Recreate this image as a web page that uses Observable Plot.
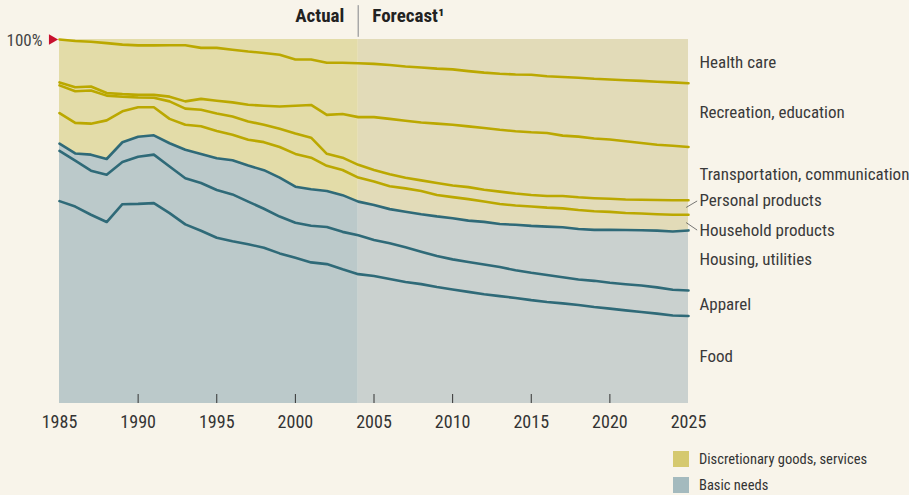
<!DOCTYPE html>
<html>
<head>
<meta charset="utf-8">
<script src="https://cdn.jsdelivr.net/npm/d3@7"></script>
<script src="https://cdn.jsdelivr.net/npm/@observablehq/plot@0.6"></script>
<style>
  html, body { margin: 0; padding: 0; background: #f8f4ea; }
  #wrap { position: relative; width: 909px; height: 495px; overflow: hidden;
          font-family: "Liberation Sans Narrow", "Arial Narrow", "Roboto Condensed", "Roboto", sans-serif; }
  #chart { position: absolute; left: 0; top: 0; }
  .lg { position: absolute; left: 673px; height: 16px; display: flex; align-items: center; }
  .lg span.sw { width: 16px; height: 16px; display: inline-block; }
  .lg span.tx { margin-left: 10px; font-size: 14.5px; color: #333; white-space: nowrap; }
</style>
</head>
<body>
<div id="wrap">
  <div id="chart"></div>
  <div class="lg" style="top:451px"><span class="sw" style="background:#d5c96f"></span><span class="tx">Discretionary goods, services</span></div>
  <div class="lg" style="top:477px"><span class="sw" style="background:#a4babe"></span><span class="tx">Basic needs</span></div>
</div>
<script>
// ---- data (share of consumption, %, 1985–2025) ----
const years = d3.range(1985, 2026);
const categories = ["Food", "Apparel", "Housing, utilities", "Household products",
  "Personal products", "Transportation, communication", "Recreation, education", "Health care"];
const basicNeeds = ["Food", "Apparel", "Housing, utilities"];
const forecastStart = 2004;
const xTicks = [1985, 1990, 1995, 2000, 2005, 2010, 2015, 2020, 2025];

const food = [55.6,54.1,51.8,49.8,54.7,54.8,55.0,52.3,49.2,47.4,45.5,44.6,43.7,42.8,41.2,40.0,38.8,38.3,36.9,35.5,35.0,34.2,33.4,32.8,32.0,31.3,30.7,30.0,29.5,29.0,28.4,27.9,27.5,27.1,26.5,26.1,25.6,25.2,24.7,24.2,24.0];
const apparel = [13.8,12.6,12.1,13.0,11.6,12.9,13.3,12.8,12.7,13.1,13.1,12.9,11.7,10.7,10.1,9.6,10.1,10.2,10.3,10.7,9.9,9.8,9.5,8.9,8.5,8.3,8.2,8.2,8.0,7.6,7.5,7.4,7.2,7.0,7.2,7.1,7.2,7.3,7.2,7.1,7.0];
const housing = [2.0,2.0,4.4,4.3,5.4,5.5,5.3,6.4,7.8,8.0,8.7,9.4,9.9,10.6,10.7,9.9,10.0,9.9,10.1,9.2,9.6,9.4,9.8,10.3,10.9,11.3,11.4,11.7,11.8,12.5,12.9,13.3,13.7,13.9,14.0,14.6,14.9,15.2,15.6,16.0,16.5];
const household = [8.4,8.4,8.5,10.6,8.5,8.1,7.7,6.7,6.9,7.6,7.5,7.0,7.1,7.7,8.4,9.0,8.7,6.9,6.9,6.6,6.4,6.3,6.4,6.4,5.9,5.8,5.9,5.6,5.5,5.3,5.3,5.2,5.2,5.2,5.1,4.9,4.7,4.6,4.5,4.6,4.3];
const personal = [7.6,8.7,9.1,6.8,4.0,2.7,2.6,4.8,4.4,4.5,4.8,5.0,5.0,4.8,5.0,5.6,5.5,3.3,3.4,3.5,3.2,3.3,2.9,2.9,3.3,3.2,3.3,3.2,3.4,3.3,3.2,3.2,3.4,3.5,3.6,3.6,3.7,3.8,3.9,4.0,4.0];
const transport = [0.8,1.1,1.1,0.7,0.7,0.7,0.8,1.3,2.0,3.0,3.5,3.9,4.6,5.2,6.1,7.6,9.0,10.7,12.0,13.1,14.5,15.2,15.7,15.9,16.3,16.7,16.7,17.0,17.0,17.1,17.2,17.3,16.6,16.7,16.4,16.3,16.0,15.6,15.2,15.0,14.6];
const recreation = [11.8,12.7,12.3,13.7,13.6,13.6,13.6,14.1,15.4,14.0,14.5,14.5,14.6,14.5,14.2,12.7,12.5,14.3,14.1,14.8,14.6,14.8,14.9,15.1,15.1,15.2,15.2,15.2,15.4,15.6,15.8,15.6,16.1,16.2,16.4,16.5,16.8,17.1,17.3,17.4,17.5];
const health = [0.0,0.4,0.6,1.0,1.4,1.6,1.6,1.6,1.6,2.3,2.3,2.8,3.3,3.7,4.2,5.5,5.5,6.4,6.4,6.5,6.7,7.0,7.4,7.7,8.0,8.2,8.7,9.1,9.4,9.6,9.7,10.1,10.3,10.5,10.8,11.0,11.2,11.4,11.6,11.8,12.0];

// ---- styling / label placement (not data) ----
const C = {
  basicActual: "#bbc9ca", basicForecast: "#cad1cf",
  discActual: "#e3dca8", discForecast: "#e2dbb8",
  blueLine: "#2f6a78", goldLine: "#bba800", text: "#3a3a3a"
};
const pxPerPct = 3.64;
const labelNudgePx = { "Recreation, education": -2.5, "Personal products": -6.5,
  "Household products": 7.5, "Housing, utilities": -1, "Food": -3.5, "Health care": 1,
  "Apparel": 1, "Transportation, communication": 0.5 };
const leaderLabels = ["Personal products", "Household products"];

// ---- build stacked table ----
const series = [food, apparel, housing, household, personal, transport, recreation, health];
const rows = [];
const yearRows = [];
years.forEach((yr, i) => {
  const total = d3.sum(series, s => s[i]);
  let acc = 0;
  let basicTop = 0;
  categories.forEach((c, k) => {
    const v = series[k][i] / total * 100;
    rows.push({ year: yr, category: c, basic: basicNeeds.includes(c), y1: acc, y2: acc + v, mid: acc + v / 2 });
    acc += v;
    if (basicNeeds.includes(c)) basicTop = acc;
  });
  yearRows.push({ year: yr, basicTop, top: acc });
});

const lastYear = years[years.length - 1];
const labels = rows.filter(d => d.year === lastYear).map(d => ({
  ...d, ly: d.mid - (labelNudgePx[d.category] || 0) / pxPerPct
}));

const actual = d => d.year <= forecastStart;
const forecast = d => d.year >= forecastStart;

const chart = Plot.plot({
  width: 909,
  height: 440,
  marginLeft: 59,
  marginRight: 221,
  marginTop: 39,
  marginBottom: 37,
  x: { domain: [1985, 2025] },
  y: { domain: [0, 100], axis: null },
  style: { background: "transparent", fontFamily: '"Liberation Sans Narrow", "Arial Narrow", "Roboto Condensed", Roboto, sans-serif', color: "#333" },
  marks: [
    // fills
    Plot.areaY(yearRows, { filter: actual, x: "year", y1: 0, y2: "basicTop", fill: C.basicActual }),
    Plot.areaY(yearRows, { filter: forecast, x: "year", y1: 0, y2: "basicTop", fill: C.basicForecast }),
    Plot.areaY(yearRows, { filter: actual, x: "year", y1: "basicTop", y2: "top", fill: C.discActual }),
    Plot.areaY(yearRows, { filter: forecast, x: "year", y1: "basicTop", y2: "top", fill: C.discForecast }),
    // boundary lines
    Plot.lineY(rows, { filter: d => !d.basic && d.category !== "Health care", x: "year", y: "y2", z: "category",
      stroke: C.goldLine, strokeWidth: 2.6, strokeLinejoin: "round" }),
    Plot.lineY(rows, { filter: d => d.basic, x: "year", y: "y2", z: "category",
      stroke: C.blueLine, strokeWidth: 2.6, strokeLinejoin: "round" }),
    // inner ticks
    Plot.ruleX(xTicks.filter(t => t > 1985 && t < 2025), { y1: 0, y2: 9 / pxPerPct, stroke: "#333", strokeWidth: 1 }),
    Plot.axisX({ ticks: xTicks, tickFormat: d => String(d), tickSize: 0, tickPadding: 12, fontSize: 18, color: "#333", label: null }),
    // 100% marker
    Plot.text([100], { x: 1985, y: d => d, text: d => d + "%", dx: -17, dy: 1, textAnchor: "end", fontSize: 17, fill: "#444" }),
    Plot.dot([100], { x: 1985, y: d => d, symbol: "triangle", rotate: 90, r: 3.9, fill: "#c8102e", stroke: null, dx: -7.5 }),
    // actual / forecast header
    Plot.ruleX([forecastStart], { y1: 100.6, y2: 109.3, stroke: "#a8a8a8", strokeWidth: 1.5 }),
    Plot.text(["Actual"], { x: forecastStart, frameAnchor: "top", lineAnchor: "middle", dy: -24, dx: -14, textAnchor: "end",
      text: d => d, fontWeight: "bold", fontSize: 19, fill: "#222" }),
    Plot.text(["Forecast¹"], { x: forecastStart, frameAnchor: "top", lineAnchor: "middle", dy: -24, dx: 14, textAnchor: "start",
      text: d => d, fontWeight: "bold", fontSize: 19, fill: "#222" }),
    // leader lines + series labels
    Plot.link(labels.filter(d => leaderLabels.includes(d.category)), {
      x1: () => lastYear - 0.15, y1: "mid", x2: () => lastYear + 0.55, y2: "ly", stroke: "#555", strokeWidth: 0.8 }),
    Plot.text(labels, { x: "year", y: "ly", text: "category", dx: 11, textAnchor: "start", fontSize: 17, fill: C.text })
  ]
});
document.getElementById("chart").appendChild(chart);
</script>
</body>
</html>
